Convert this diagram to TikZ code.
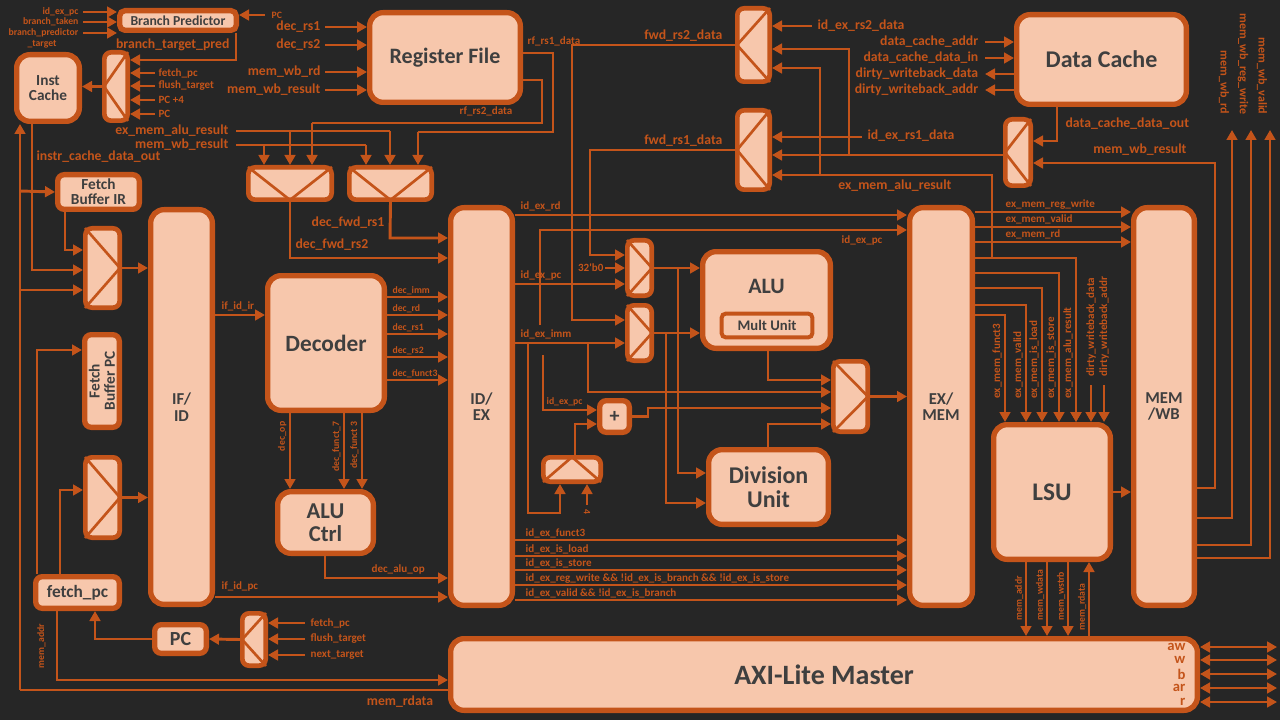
\documentclass[tikz,border=0pt]{standalone}
\usepackage{fontspec}
\usetikzlibrary{arrows.meta}
\newfontfamily\sig{Carlito}
\definecolor{bgc}{HTML}{262626}
\definecolor{orng}{HTML}{C4541A}
\definecolor{peach}{HTML}{F7C7AC}
\definecolor{ink}{HTML}{3F3F3F}
\newcommand{\fs}[1]{\fontsize{#1}{#1}\selectfont}

\tikzset{
    blk/.style 2 args={draw=orng, fill=peach, line width=4pt, rounded corners=10pt,
        minimum width={#1*0.75pt-4pt}, minimum height={#2*0.75pt-4pt}, inner sep=0pt,
        text=ink, font=\sig\bfseries\fs{17}, align=center},
    mux/.style 2 args={draw=orng, fill=peach, line width=3.5pt, rounded corners=5pt,
        minimum width={#1*0.75pt-3.5pt}, minimum height={#2*0.75pt-3.5pt}, inner sep=0pt},
    mx/.style={draw=orng, line width=2pt},
    wire/.style={draw=orng, line width=2.2pt},
    arr/.style={wire, -{Triangle[length=7.5pt,width=8pt]}},
    darr/.style={wire, {Triangle[length=7.5pt,width=8pt]}-{Triangle[length=7.5pt,width=8pt]}},
    lbl/.style={text=orng, font=\sig\bfseries\fs{10.3}, inner sep=1pt},
    sm/.style={lbl, font=\sig\bfseries\fs{8.3}},
    xs/.style={lbl, font=\sig\bfseries\fs{7.3}},
}
% mux cross lines
\newcommand{\muxR}[1]{\draw[mx] ([shift={(2,2)}]#1.north west) -- ([shift={(-2,0)}]#1.east) -- ([shift={(2,-2)}]#1.south west);}
\newcommand{\muxL}[1]{\draw[mx] ([shift={(-2,2)}]#1.north east) -- ([shift={(2,0)}]#1.west) -- ([shift={(-2,-2)}]#1.south east);}
\newcommand{\muxD}[1]{\draw[mx] ([shift={(2,2)}]#1.north west) -- ([shift={(0,-2)}]#1.south) -- ([shift={(-2,2)}]#1.north east);}
\newcommand{\muxU}[1]{\draw[mx] ([shift={(2,-2)}]#1.south west) -- ([shift={(0,2)}]#1.north) -- ([shift={(-2,-2)}]#1.south east);}
\newcommand{\mux}[6]{\node[mux={#4}{#5}] (#1) at (#2,#3) {}; \csname mux#6\endcsname{#1}}

\begin{document}
\begin{tikzpicture}[x=0.75pt, y=-0.75pt]
    \fill[bgc] (0,0) rectangle (1280,720);
    \useasboundingbox (0,0) rectangle (1280,720);

    % Blocks
    \node[blk={122}{25}, rounded corners=4pt, font=\sig\bfseries\fs{10.3}] (bp) at (178,20.5) {Branch Predictor};
    \node[blk={68}{72}, font=\sig\bfseries\fs{11.5}] (ic) at (48,88) {Inst\\Cache};
    \node[blk={156}{95}, font=\sig\bfseries\fs{16.5}] (rf) at (445,57.5) {Register File};
    \node[blk={87}{40}, rounded corners=5pt, font=\sig\bfseries\fs{11.5}] (fbir) at (98.5,192) {Fetch\\Buffer IR};
    \node[blk={67}{400}, font=\sig\bfseries\fs{12.5}] (ifid) at (181.5,407) {IF/\\ID};
    \node[blk={40}{98}, rounded corners=5pt] (fbpc) at (102,381) {};
    \node[rotate=90, text=ink, font=\sig\bfseries\fs{11.5}, align=center] at (fbpc) {Fetch\\Buffer PC};
    \node[blk={89}{37}, rounded corners=5pt, font=\sig\bfseries\fs{13}] (fpc) at (77.5,592.5) {fetch\_pc};
    \node[blk={57}{34}, rounded corners=5pt, font=\sig\bfseries\fs{15}] (pc) at (180.5,639) {PC};
    \node[blk={122}{140}, font=\sig\bfseries\fs{17.5}] (dec) at (326,343) {Decoder};
    \node[blk={101}{67}, font=\sig\bfseries\fs{17}] (aluc) at (325.5,522.5) {ALU\\Ctrl};
    \node[blk={67}{403}, font=\sig\bfseries\fs{12.5}] (idex) at (481.5,406.5) {ID/\\EX};
    \node[blk={752}{77}, font=\sig\bfseries\fs{21}] (axi) at (824,674.5) {AXI-Lite Master};
    \node[blk={175}{95}, font=\sig\bfseries\fs{18}] (dc) at (1101.5,59.5) {Data Cache};
    \node[blk={133}{102}] (alu) at (766.5,300) {};
    \node[text=ink, font=\sig\bfseries\fs{16.5}] at (766.5,286) {ALU};
    \node[blk={96}{29}, rounded corners=3pt, line width=3pt, font=\sig\bfseries\fs{11}] (mult) at (767,325.5) {Mult Unit};
    \node[blk={35}{37}, rounded corners=5pt, font=\sig\bfseries\fs{15}] (add) at (614.5,416.5) {+};
    \node[blk={125}{80}, font=\sig\bfseries\fs{18}] (div) at (768.5,487) {Division\\Unit};
    \node[blk={68}{403}, font=\sig\bfseries\fs{12.5}] (exmem) at (941,406.5) {EX/\\MEM};
    \node[blk={122}{140}, font=\sig\bfseries\fs{19}] (lsu) at (1052,492) {LSU};
    \node[blk={66}{403}, font=\sig\bfseries\fs{12.5}] (memwb) at (1164,406.5) {MEM\\/WB};

    % Muxes
    \mux{micc}{116}{86.5}{28}{73}{L}
    \mux{mfwa}{290}{183.5}{88}{37}{D}
    \mux{mfwb}{390.5}{183.5}{87}{37}{D}
    \mux{mfba}{102.5}{268}{39}{84}{R}
    \mux{mfbb}{102.5}{497.5}{39}{85}{R}
    \mux{mpc}{254}{639.5}{28}{57}{L}
    \mux{mrs2}{753.5}{45}{37}{78}{L}
    \mux{mrs1}{753.5}{150}{37}{84}{L}
    \mux{mdc}{1018}{152.5}{30}{71}{L}
    \mux{mA}{639.5}{268}{29}{60}{R}
    \mux{mB}{639.5}{333}{29}{60}{R}
    \mux{mres}{850.5}{396.5}{39}{75}{R}
    \mux{msm}{572}{469.5}{62}{29}{U}

    % Branch predictor and fetch
    \foreach \y/\t in {12/id\_ex\_pc, 22/branch\_taken, 33/branch\_predictor} {
        \node[xs, anchor=east] at (80,\y) {\t};
        \draw[arr] (83,\y) -- (bp.west |- 0,\y);
    }
    \node[xs] at (42,44) {\_target};
    \draw[arr] (265,15) -- (bp.east |- 0,15);
    \node[xs, anchor=west] at (270,15) {PC};
    \draw[arr] (236,33) -- (236,60) -- (micc.east |- 0,60);
    \node[lbl, anchor=south east] at (231,52) {branch\_target\_pred};
    \foreach \y/\t in {73/fetch\_pc, 86/flush\_target, 100/PC +4, 114/PC} {
        \draw[arr] (155,\y) -- (micc.east |- 0,\y);
        \node[sm, anchor=west] at (157,\y) {\t};
    }
    \draw[arr] (micc.west) -- (ic.east |- micc.west);

    % Register file inputs
    \foreach \y/\t in {27/dec\_rs1, 45/dec\_rs2, 72/mem\_wb\_rd, 90/mem\_wb\_result} {
        \node[lbl, anchor=east] at (322,\y) {\t};
        \draw[arr] (325,\y) -- (rf.west |- 0,\y);
    }

    % Forwarding muxes
    \draw[wire] (rf.east |- 0,53) -- (553,53) -- (553,132) -- (418,132);
    \draw[arr] (418,132) -- (418,0 |- mfwb.north);
    \node[sm, anchor=south west] at (526,48) {rf\_rs1\_data};
    \draw[wire] (rf.east |- 0,80) -- (542,80) -- (542,123) -- (312,123);
    \draw[arr] (312,123) -- (312,0 |- mfwa.north);
    \node[sm, anchor=south west] at (458,118) {rf\_rs2\_data};
    \node[lbl, anchor=east] at (230,131) {ex\_mem\_alu\_result};
    \node[lbl, anchor=east] at (230,145) {mem\_wb\_result};
    \draw[wire] (236,131) -- (390,131);
    \draw[wire] (236,145) -- (366,145);
    \foreach \x/\y/\m in {264/145/mfwa, 290/131/mfwa, 366/145/mfwb, 390/131/mfwb}
        \draw[arr] (\x,\y) -- (\x,0 |- \m.north);
    \draw[arr] (mfwa.south) -- (290,258) -- (idex.west |- 0,258);
    \node[lbl, anchor=south west] at (294,252) {dec\_fwd\_rs2};
    \draw[arr] (mfwb.south) -- (390,238) -- (idex.west |- 0,238);
    \node[lbl, anchor=south east] at (386,230) {dec\_fwd\_rs1};

    % Fetch buffers
    \draw[arr] (20,690) -- (20,0 |- ic.south);
    \draw[arr] (32,0 |- ic.south) -- (32,270) -- (mfba.west |- 0,270);
    \draw[arr] (20,191) -- (fbir.west);
    \draw[arr] (20,290) -- (mfba.west |- 0,290);
    \node[lbl, anchor=west] at (35,157) {instr\_cache\_data\_out};
    \draw[arr] (65,0 |- fbir.south) -- (65,250) -- (mfba.west |- 0,250);
    \draw[arr] (mfba.east) -- (ifid.west |- mfba.east);
    \draw[arr] (37,0 |- fpc.north) -- (37,350) -- (fbpc.west |- 0,350);
    \draw[arr] (60,0 |- fpc.north) -- (60,490) -- (mfbb.west |- 0,490);
    \draw[arr] (mfbb.east) -- (ifid.west |- mfbb.east);
    \draw[arr] (pc.west) -- (95,639) -- (95,0 |- fpc.south);
    \draw[arr] (57,0 |- fpc.south) -- (57,680) -- (axi.west |- 0,680);
    \node[xs, rotate=90, anchor=south] at (47,646) {mem\_addr};
    \draw[wire] (axi.west |- 0,690) -- (20,690);
    \node[lbl, anchor=north] at (400,694) {mem\_rdata};
    \foreach \y/\t in {623/fetch\_pc, 639/flush\_target, 655/next\_target} {
        \draw[arr] (305,\y) -- (mpc.east |- 0,\y);
        \node[sm, anchor=west] at (309,\y) {\t};
    }
    \draw[arr] (mpc.west) -- (pc.east);

    % Decode
    \draw[arr] (ifid.east |- 0,315) -- (dec.west |- 0,315);
    \node[sm, anchor=south west] at (220,313) {if\_id\_ir};
    \draw[arr] (ifid.east |- 0,597) -- (idex.west |- 0,597);
    \node[sm, anchor=south west] at (220,593) {if\_id\_pc};
    \foreach \y/\t in {297/dec\_imm, 315/dec\_rd, 334/dec\_rs1, 357/dec\_rs2, 380/dec\_funct3} {
        \draw[arr] (dec.east |- 0,\y) -- (idex.west |- 0,\y);
        \node[xs, anchor=south west] at (391,\y-1) {\t};
    }
    \foreach \x/\t in {290/dec\_op, 344/dec\_funct\_7, 362/dec\_funct 3} {
        \draw[arr] (\x,0 |- dec.south) -- (\x,0 |- aluc.north);
        \node[xs, rotate=90, anchor=south east] at (\x-2,420) {\t};
    }
    \draw[arr] (325,0 |- aluc.south) -- (325,578) -- (idex.west |- 0,578);
    \node[sm, anchor=south west] at (370,576) {dec\_alu\_op};

    % Execute
    \draw[arr] (idex.east |- 0,215) -- (exmem.west |- 0,215);
    \node[sm, anchor=south west] at (519,213) {id\_ex\_rd};
    \draw[arr] (540,325) -- (540,230) -- (exmem.west |- 0,230);
    \node[sm, anchor=north west] at (840,234) {id\_ex\_pc};
    \draw[arr] (idex.east |- 0,284) -- (mA.west |- 0,284);
    \node[sm, anchor=south west] at (519,282) {id\_ex\_pc};
    \draw[arr] (605,268) -- (mA.west |- 0,268);
    \node[sm, anchor=east] at (605,268) {32'b0};
    \draw[arr] (mrs1.west) -- (590,150) -- (590,255) -- (mA.west |- 0,255);
    \node[lbl, anchor=south east] at (724,148) {fwd\_rs1\_data};
    \draw[arr] (mrs2.west) -- (572,45) -- (572,320) -- (mB.west |- 0,320);
    \node[lbl, anchor=south east] at (724,43) {fwd\_rs2\_data};
    \draw[arr] (idex.east |- 0,343) -- (mB.west |- 0,343);
    \node[sm, anchor=south west] at (519,341) {id\_ex\_imm};
    \draw[arr] (528,343) -- (528,513) -- (560,513) -- (560,0 |- msm.south);
    \draw[arr] (588,343) -- (588,392) -- (mres.west |- 0,392);
    \draw[arr] (543,355) -- (543,410) -- (add.west |- 0,410);
    \node[xs, anchor=south west] at (545,408) {id\_ex\_pc};
    \draw[arr] (587,505) -- (587,0 |- msm.south);
    \node[xs, rotate=-90] at (587,512) {4};
    \draw[arr] (575,0 |- msm.north) -- (575,424) -- (add.west |- 0,424);
    \draw[arr] (add.east) -- (648,416.5) -- (648,408) -- (mres.west |- 0,408);
    \draw[arr] (mA.east) -- (alu.west |- mA.east);
    \draw[arr] (678,268) -- (678,473) -- (div.west |- 0,473);
    \draw[arr] (mB.east) -- (alu.west |- mB.east);
    \draw[arr] (666,333) -- (666,503) -- (div.west |- 0,503);
    \draw[arr] (768,0 |- alu.south) -- (768,380) -- (mres.west |- 0,380);
    \draw[arr] (768,0 |- div.north) -- (768,424) -- (mres.west |- 0,424);
    \draw[arr] (mres.east) -- (exmem.west |- mres.east);
    \foreach \y/\t in {540/id\_ex\_funct3, 556/id\_ex\_is\_load, 570/id\_ex\_is\_store,
        585/id\_ex\_reg\_write \&\& !id\_ex\_is\_branch \&\& !id\_ex\_is\_store,
        600/id\_ex\_valid \&\& !id\_ex\_is\_branch} {
        \draw[arr] (idex.east |- 0,\y) -- (exmem.west |- 0,\y);
        \node[sm, anchor=south west] at (524,\y) {\t};
    }

    % Forwarding sources
    \draw[arr] (812,26) -- (mrs2.east |- 0,26);
    \node[lbl, anchor=west] at (816,26) {id\_ex\_rs2\_data};
    \draw[arr] (862,137) -- (mrs1.east |- 0,137);
    \node[lbl, anchor=west] at (866,136) {id\_ex\_rs1\_data};
    \draw[arr] (mdc.west |- 0,155) -- (mrs1.east |- 0,155);
    \draw[arr] (849,155) -- (849,49) -- (mrs2.east |- 0,49);
    \draw[arr] (exmem.east |- 0,258) -- (1076,258) -- (1076,0 |- lsu.north);
    \draw[arr] (992,258) -- (992,175) -- (mrs1.east |- 0,175);
    \draw[arr] (820,175) -- (820,68) -- (mrs2.east |- 0,68);
    \node[lbl, anchor=north east] at (953,178) {ex\_mem\_alu\_result};

    % Data cache
    \foreach \y/\t in {42/data\_cache\_addr, 58/data\_cache\_data\_in}
        \draw[arr] (985,\y) -- (dc.west |- 0,\y) node[lbl, pos=0, anchor=east, xshift=-3pt] {\t};
    \foreach \y/\t in {74/dirty\_writeback\_data, 90/dirty\_writeback\_addr}
        \draw[arr] (dc.west |- 0,\y) -- (985,\y) node[lbl, anchor=east, xshift=-3pt] {\t};
    \draw[arr] (1057,0 |- dc.south) -- (1057,141) -- (mdc.east |- 0,141);
    \node[lbl, anchor=west] at (1064,124) {data\_cache\_data\_out};
    \draw[arr] (memwb.east |- 0,488) -- (1215,488) -- (1215,163) -- (mdc.east |- 0,163);
    \node[lbl, anchor=south east] at (1188,157) {mem\_wb\_result};
    \foreach \x/\y/\t in {1232/518/mem\_wb\_rd, 1251/545/mem\_wb\_reg\_write, 1270/558/mem\_wb\_valid} {
        \draw[arr] (memwb.east |- 0,\y) -- (\x,\y) -- (\x,130);
        \node[lbl, font=\sig\bfseries\fs{9}, rotate=-90, anchor=east] at (\x-8,116) {\t};
    }

    % Memory stage
    \foreach \y/\t in {212/ex\_mem\_reg\_write, 227/ex\_mem\_valid, 242/ex\_mem\_rd} {
        \draw[arr] (exmem.east |- 0,\y) -- (memwb.west |- 0,\y);
        \node[sm, anchor=south west] at (1004,\y-1) {\t};
    }
    \foreach \x/\y/\t in {1005/315/ex\_mem\_funct3, 1026/305/ex\_mem\_valid, 1042/288/ex\_mem\_is\_load,
        1059/273/ex\_mem\_is\_store, 1076/258/ex\_mem\_alu\_result} {
        \draw[arr] (exmem.east |- 0,\y) -- (\x,\y) -- (\x,0 |- lsu.north);
        \node[sm, rotate=90, anchor=west] at (\x-8,400) {\t};
    }
    \foreach \x/\t in {1091/dirty\_writeback\_data, 1104/dirty\_writeback\_addr} {
        \draw[arr] (\x,385) -- (\x,0 |- lsu.north);
        \node[sm, rotate=90, anchor=west] at (\x,378) {\t};
    }
    \draw[arr] (lsu.east) -- (memwb.west |- lsu.east);
    \foreach \x/\t in {1026/mem\_addr, 1047/mem\_wdata, 1068/mem\_wstrb} {
        \draw[arr] (\x,0 |- lsu.south) -- (\x,0 |- axi.north);
        \node[xs, rotate=90, anchor=west] at (\x-7,622) {\t};
    }
    \draw[arr] (1089,0 |- axi.north) -- (1089,0 |- lsu.south);
    \node[xs, rotate=90, anchor=west] at (1082,632) {mem\_rdata};

    % AXI channels
    \foreach \y/\t in {647/aw, 660/w, 674/b, 688/ar, 702/r} {
        \node[lbl, font=\sig\bfseries\fs{11}, anchor=east] at (1187,\y) {\t};
        \draw[darr] (axi.east |- 0,\y) -- (1277,\y);
    }
\end{tikzpicture}
\end{document}
